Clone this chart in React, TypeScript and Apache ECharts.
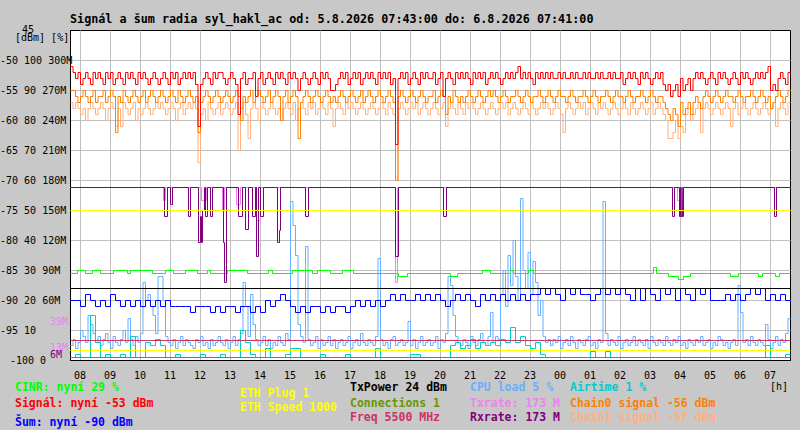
import React, { useEffect, useRef } from "react";
import * as echarts from "echarts";

// time frame: 5.8.2026 07:41 -> 6.8.2026 07:41 (UTC used for display)
const START = Date.UTC(2026, 7, 5, 7, 41);
const MINUTE = 60 * 1000;
const END = START + 1440 * MINUTE;
const FINE_STEP_MIN = 5; // sampling step of signal / chains / CPU
const COARSE_STEP_MIN = 10; // sampling step of noise / airtime

// y axis tick labels (dBm, %, rate)
const DBM_TICKS = [-100, -95, -90, -85, -80, -75, -70, -65, -60, -55, -50, -45];
const TICK_LABELS = [
  "-100 0", "-95 10", "-90 20 60M", "-85 30 90M", "-80 40 120M", "-75 50 150M",
  "-70 60 180M", "-65 70 210M", "-60 80 240M", "-55 90 270M", "-50 100 300M", "45",
];

// Signal [dBm], every 5 minutes (one row = one hour)
const SIGNAL = [
  -51, -52, -53, -52, -54, -53, -52, -53, -54, -52, -53, -52,
  -53, -54, -52, -53, -52, -54, -53, -52, -53, -54, -52, -53,
  -52, -53, -54, -52, -53, -52, -53, -54, -53, -52, -53, -54,
  -53, -52, -53, -54, -52, -53, -52, -54, -53, -52, -53, -52,
  -53, -52, -54, -61, -54, -53, -52, -53, -54, -52, -53, -52,
  -52, -53, -54, -53, -52, -53, -54, -59, -53, -52, -54, -53,
  -53, -52, -56, -53, -52, -54, -53, -52, -53, -54, -52, -53,
  -52, -53, -54, -52, -53, -52, -53, -55, -53, -52, -53, -54,
  -53, -52, -53, -54, -52, -53, -52, -53, -55, -55, -54, -53,
  -52, -53, -52, -54, -53, -52, -53, -52, -54, -53, -52, -53,
  -52, -53, -54, -52, -53, -52, -53, -52, -54, -53, -64, -53,
  -52, -53, -52, -54, -53, -52, -53, -54, -52, -53, -52, -53,
  -53, -52, -54, -53, -52, -56, -53, -52, -53, -54, -52, -53,
  -52, -53, -52, -53, -54, -52, -53, -52, -53, -52, -54, -53,
  -52, -53, -52, -53, -54, -53, -52, -53, -52, -53, -52, -51,
  -53, -52, -53, -52, -53, -54, -52, -53, -52, -53, -52, -53,
  -52, -53, -53, -52, -53, -52, -53, -53, -52, -53, -52, -53,
  -53, -52, -53, -52, -53, -53, -52, -53, -52, -53, -53, -52,
  -53, -52, -53, -53, -52, -54, -53, -52, -53, -52, -53, -54,
  -52, -53, -52, -53, -54, -53, -52, -53, -52, -54, -55, -54,
  -56, -55, -54, -56, -53, -55, -54, -53, -55, -53, -52, -53,
  -52, -53, -54, -53, -52, -53, -54, -52, -53, -52, -53, -54,
  -53, -52, -53, -54, -52, -53, -52, -53, -54, -53, -52, -53,
  -52, -53, -52, -51, -55, -54, -55, -53, -52, -53, -54, -52,
];

// Chain0 signal [dBm], every 5 minutes
const CHAIN0 = [
  -55, -55, -56, -57, -56, -55, -56, -57, -56, -55, -57, -56,
  -56, -55, -57, -56, -55, -56, -62, -56, -57, -55, -56, -57,
  -56, -55, -56, -57, -56, -55, -57, -56, -55, -56, -57, -56,
  -55, -56, -57, -56, -55, -56, -57, -55, -56, -57, -56, -55,
  -56, -57, -56, -62, -57, -56, -55, -56, -57, -56, -55, -56,
  -57, -56, -55, -56, -57, -56, -55, -56, -60, -56, -57, -56,
  -55, -57, -56, -55, -56, -57, -56, -55, -57, -56, -55, -56,
  -60, -56, -55, -57, -56, -55, -56, -63, -57, -56, -55, -56,
  -57, -56, -55, -56, -57, -56, -55, -56, -57, -56, -57, -56,
  -55, -56, -57, -56, -55, -56, -57, -56, -55, -57, -56, -55,
  -56, -57, -56, -55, -56, -57, -56, -55, -56, -57, -70, -56,
  -55, -56, -57, -56, -55, -56, -57, -56, -55, -56, -57, -56,
  -56, -55, -57, -56, -55, -56, -59, -56, -57, -55, -56, -57,
  -56, -57, -56, -55, -56, -57, -56, -55, -56, -57, -56, -55,
  -56, -55, -56, -57, -56, -55, -56, -57, -56, -56, -55, -56,
  -57, -56, -55, -56, -57, -56, -56, -55, -56, -57, -56, -55,
  -56, -57, -56, -55, -56, -56, -57, -56, -55, -56, -57, -56,
  -56, -55, -56, -57, -56, -55, -56, -57, -56, -56, -55, -56,
  -57, -56, -55, -56, -56, -57, -56, -55, -56, -57, -56, -56,
  -55, -56, -57, -56, -55, -56, -57, -56, -56, -57, -58, -59,
  -60, -58, -59, -61, -57, -59, -58, -57, -59, -57, -56, -57,
  -58, -56, -55, -56, -57, -56, -55, -56, -57, -56, -55, -56,
  -56, -57, -56, -55, -56, -57, -56, -56, -55, -56, -57, -56,
  -55, -56, -57, -56, -58, -57, -56, -55, -56, -57, -56, -55,
];

// Chain1 signal [dBm], every 5 minutes
const CHAIN1 = [
  -57, -58, -57, -58, -59, -58, -60, -58, -57, -58, -59, -58,
  -57, -58, -60, -58, -57, -58, -61, -58, -61, -57, -58, -59,
  -58, -57, -60, -58, -59, -58, -57, -58, -59, -58, -57, -58,
  -57, -58, -59, -58, -57, -58, -60, -58, -57, -59, -58, -57,
  -58, -57, -58, -67, -59, -58, -60, -57, -58, -59, -58, -57,
  -59, -58, -57, -58, -59, -58, -57, -65, -58, -57, -59, -63,
  -58, -57, -58, -60, -57, -58, -59, -58, -57, -58, -59, -58,
  -60, -58, -57, -58, -59, -57, -60, -58, -57, -58, -59, -57,
  -58, -57, -59, -58, -57, -58, -59, -57, -58, -61, -58, -57,
  -58, -59, -57, -58, -57, -58, -59, -58, -57, -58, -59, -58,
  -57, -58, -59, -58, -57, -58, -59, -57, -58, -59, -70, -58,
  -57, -58, -59, -58, -57, -58, -57, -59, -58, -57, -58, -59,
  -58, -57, -58, -59, -58, -57, -61, -58, -57, -58, -59, -57,
  -58, -59, -57, -58, -57, -58, -59, -58, -57, -58, -59, -58,
  -57, -58, -59, -58, -57, -58, -57, -59, -58, -57, -58, -59,
  -58, -57, -58, -59, -57, -58, -59, -58, -57, -58, -57, -58,
  -59, -58, -57, -58, -59, -62, -58, -57, -58, -59, -58, -57,
  -58, -57, -59, -58, -57, -58, -59, -57, -58, -57, -58, -59,
  -58, -57, -58, -59, -58, -57, -58, -59, -57, -58, -59, -58,
  -57, -58, -59, -58, -57, -59, -58, -57, -58, -59, -60, -63,
  -63, -62, -60, -63, -61, -62, -59, -58, -60, -59, -58, -57,
  -62, -58, -57, -58, -59, -58, -57, -58, -59, -58, -57, -58,
  -61, -58, -57, -59, -58, -57, -58, -59, -58, -57, -58, -59,
  -58, -57, -58, -59, -58, -57, -61, -58, -57, -58, -59, -57,
];

// CPU load [%], every 5 minutes
const CPU = [
  5, 7, 4, 6, 10, 8, 6, 15, 12, 9, 6, 8,
  5, 7, 9, 6, 4, 8, 6, 5, 7, 10, 6, 14,
  7, 5, 8, 6, 9, 26, 20, 22, 18, 15, 9, 28,
  28, 20, 8, 6, 5, 7, 4, 6, 8, 5, 7, 6,
  5, 4, 7, 6, 8, 5, 6, 4, 7, 5, 6, 8,
  6, 5, 7, 4, 6, 8, 5, 7, 9, 26, 18, 8,
  22, 12, 7, 5, 6, 8, 5, 7, 4, 6, 5, 8,
  6, 5, 9, 7, 53, 45, 35, 12, 8, 6, 38, 7,
  5, 6, 8, 4, 7, 5, 6, 8, 5, 7, 4, 6,
  7, 5, 6, 8, 4, 6, 7, 5, 9, 6, 5, 7,
  6, 5, 8, 34, 7, 5, 6, 4, 7, 8, 5, 6,
  7, 5, 6, 13, 5, 7, 4, 6, 8, 5, 6, 7,
  5, 6, 8, 4, 7, 6, 9, 28, 25, 15, 8, 6,
  5, 7, 6, 4, 8, 6, 5, 7, 9, 6, 5, 8,
  16, 6, 8, 7, 22, 30, 18, 35, 25, 40, 28, 20,
  54, 30, 24, 36, 22, 33, 26, 15, 20, 8, 6, 7,
  5, 7, 6, 8, 4, 6, 7, 5, 8, 6, 4, 7,
  6, 5, 7, 8, 5, 6, 4, 7, 6, 53, 9, 5,
  7, 6, 5, 8, 4, 6, 7, 5, 6, 8, 5, 7,
  6, 5, 7, 4, 8, 6, 5, 7, 6, 5, 8, 6,
  5, 7, 6, 8, 5, 6, 4, 7, 6, 5, 7, 6,
  8, 5, 6, 7, 4, 6, 5, 8, 7, 5, 6, 4,
  6, 7, 5, 25, 16, 6, 7, 5, 8, 6, 5, 7,
  6, 5, 12, 7, 4, 6, 8, 5, 7, 6, 9, 14,
];

// Noise [dBm], every 10 minutes
const NOISE = [
  -90, -90, -91, -89, -90, -91, -90, -91, -89, -90, -91, -90,
  -91, -90, -91, -90, -91, -90, -91, -90, -91, -91, -91, -91,
  -92, -91, -91, -91, -92, -91, -92, -91, -91, -92, -91, -91,
  -92, -91, -92, -90, -91, -90, -89, -90, -91, -92, -91, -92,
  -91, -91, -92, -91, -92, -91, -91, -92, -91, -90, -91, -90,
  -91, -90, -91, -90, -89, -90, -89, -90, -90, -89, -90, -89,
  -90, -89, -90, -91, -90, -89, -90, -89, -90, -91, -89, -90,
  -89, -90, -89, -90, -89, -90, -89, -90, -89, -89, -88, -89,
  -88, -89, -90, -88, -89, -88, -89, -89, -90, -89, -88, -89,
  -88, -89, -88, -89, -90, -88, -90, -88, -89, -90, -88, -89,
  -88, -90, -88, -89, -90, -88, -89, -88, -90, -90, -90, -89,
  -90, -89, -90, -89, -88, -89, -88, -90, -89, -90, -89, -90,
];

// Airtime [%], every 10 minutes
const AIRTIME = [
  1, 2, 1, 1, 15, 6, 1, 2, 1, 1, 2, 1,
  8, 1, 1, 6, 5, 7, 5, 1, 1, 2, 1, 1,
  1, 1, 2, 1, 1, 1, 2, 1, 1, 1, 10, 6,
  2, 1, 1, 4, 1, 1, 1, 2, 4, 4, 1, 1,
  1, 1, 2, 1, 1, 1, 1, 2, 1, 1, 1, 1,
  1, 4, 1, 1, 1, 1, 1, 1, 2, 2, 1, 1,
  1, 1, 1, 1, 5, 6, 4, 5, 7, 4, 6, 5,
  6, 5, 7, 6, 11, 6, 8, 5, 4, 6, 2, 1,
  1, 1, 1, 1, 1, 1, 1, 1, 3, 1, 1, 3,
  1, 1, 1, 1, 1, 1, 1, 1, 1, 1, 1, 1,
  1, 1, 1, 1, 1, 1, 1, 1, 1, 1, 1, 1,
  1, 1, 1, 1, 1, 1, 1, 5, 1, 1, 1, 2,
];

// CINR [%] changes: [minute from start, value]
const CINR_EVENTS = [
  [0, 29], [14, 30], [30, 29], [44, 30], [60, 29], [86, 30], [114, 29], [120, 30],
  [164, 29], [190, 30], [206, 29], [230, 30], [254, 29], [274, 30], [280, 29],
  [314, 30], [354, 29], [396, 30], [404, 29], [444, 30], [484, 29], [494, 30],
  [520, 29], [544, 30], [566, 29], [656, 28], [674, 29], [760, 28], [774, 29],
  [824, 30], [840, 29], [880, 30], [886, 29], [916, 30], [926, 29], [1166, 31],
  [1172, 29], [1196, 28], [1216, 27], [1226, 28], [1240, 29], [1320, 28],
  [1336, 29], [1376, 28], [1384, 29], [1410, 28], [1418, 29], [1440, 29],
];

// Rxrate [M] changes
const RX_EVENTS = [
  [0, 173], [188, 144], [194, 173], [200, 156], [204, 173], [236, 144], [240, 173],
  [256, 118], [260, 144], [262, 118], [264, 150], [268, 173], [270, 144], [274, 173],
  [280, 144], [284, 173], [306, 118], [308, 78], [312, 173], [336, 144], [344, 173],
  [350, 131], [356, 173], [364, 144], [370, 173], [372, 104], [376, 173], [380, 144],
  [386, 173], [414, 118], [418, 130], [420, 173], [470, 144], [476, 173], [650, 104],
  [656, 173], [746, 144], [752, 173], [1204, 144], [1208, 173], [1218, 144],
  [1220, 173], [1221, 144], [1223, 173], [1224, 144], [1226, 173], [1408, 144],
  [1412, 173], [1440, 173],
];

// Txrate [M] changes
const TX_EVENTS = [
  [0, 173], [186, 160], [190, 173], [262, 160], [272, 173], [304, 150], [308, 173],
  [332, 156], [340, 173], [372, 140], [380, 173], [650, 78], [654, 173],
  [1214, 160], [1218, 173], [1440, 173],
];

// constant levels
const TXPOWER_PCT = 24;
const CONNECTIONS_PCT = 1;
const FREQ_LINE_M = 20;
const ETH_PLUG_LINE_M = 10;
const ETH_SPEED_LINE_M = 150;

// rate marks on the left axis
const RATE_MARKS = [39, 13, 6];
const RATE_MARK_COLORS = ["#ee82ee", "#ee82ee", "#800080"];

// current values for the legend
const NOW_CINR = 29;
const NOW_SIGNAL = -53;
const NOW_NOISE = -90;
const NOW_TXPOWER = 24;
const NOW_CONNECTIONS = 1;
const NOW_FREQ = 5500;
const NOW_CPU = 5;
const NOW_TXRATE = 173;
const NOW_RXRATE = 173;
const NOW_AIRTIME = 1;
const NOW_CHAIN0 = -56;
const NOW_CHAIN1 = -57;
const NOW_ETH_PLUG = 1;
const NOW_ETH_SPEED = 1000;

const FONT = '"DejaVu Sans Mono", "Liberation Mono", monospace';

const C = {
  signal: "#ff0000",
  chain0: "#ff8000",
  chain1: "#ffb080",
  noise: "#0000ff",
  cinr: "#00ff00",
  txpower: "#000000",
  conn: "#669900",
  freq: "#cc3366",
  cpu: "#66b0ff",
  air: "#00cccc",
  tx: "#ee82ee",
  rx: "#800080",
  eth: "#ffff00",
};

export default function App() {
  const ref = useRef<HTMLDivElement>(null);

  useEffect(() => {
    document.body.style.margin = "0";
    const chart = echarts.init(ref.current!, null, { renderer: "svg" });
    const ts = (m: number) => START + m * MINUTE;
    const reg = (arr: number[], step: number) => {
      const d = arr.map((v, i) => [ts(i * step), v]);
      d.push([END, arr[arr.length - 1]]);
      return d;
    };
    const ev = (arr: number[][]) => arr.map(([m, v]) => [ts(m), v]);
    const flat = (v: number) => [[START, v], [END, v]];
    const line = (name: string, data: any[], color: string, yAxisIndex: number) => ({
      type: "line",
      name,
      data,
      yAxisIndex,
      step: "end",
      showSymbol: false,
      symbol: "none",
      silent: true,
      animation: false,
      lineStyle: { color, width: 1 },
      itemStyle: { color },
      emphasis: { disabled: true },
    });

    const pad = (n: number) => (n < 10 ? "0" + n : "" + n);

    chart.setOption({
      animation: false,
      useUTC: true,
      backgroundColor: "#c8c8c8",
      title: {
        text: "Signál a šum radia syl_hakl_ac od: 5.8.2026 07:43:00 do: 6.8.2026 07:41:00",
        left: 70,
        top: 12,
        padding: 0,
        textStyle: { fontFamily: FONT, fontSize: 11.75, fontWeight: "bold", color: "#000", lineHeight: 14 },
      },
      grid: {
        left: 70.5,
        top: 30.5,
        width: 720,
        height: 330,
        show: true,
        backgroundColor: "#ffffff",
        borderColor: "#000",
        borderWidth: 1,
        containLabel: false,
        outerBoundsMode: "none",
      },
      xAxis: {
        type: "time",
        min: START,
        max: END,
        minInterval: 60 * MINUTE,
        maxInterval: 60 * MINUTE,
        axisLine: { show: true, lineStyle: { color: "#000", width: 1 } },
        axisTick: { show: false },
        splitLine: { show: true, showMinLine: false, showMaxLine: false, lineStyle: { color: "#c0c0c0", width: 1 } },
        axisLabel: {
          show: true,
          showMinLabel: false,
          showMaxLabel: false,
          hideOverlap: false,
          margin: 10,
          color: "#000",
          fontFamily: FONT,
          fontSize: 10,
          formatter: (v: number) => pad(new Date(v).getUTCHours()),
        },
      },
      yAxis: [
        {
          type: "value",
          min: -100,
          max: -45,
          interval: 5,
          axisLine: { show: true, lineStyle: { color: "#000", width: 1 } },
          axisTick: { show: false },
          splitLine: { show: true, showMinLine: false, showMaxLine: false, lineStyle: { color: "#c0c0c0", width: 1 } },
          axisLabel: {
            align: "left",
            margin: 70.5,
            color: "#000",
            fontFamily: FONT,
            fontSize: 10,
            formatter: (v: number) => {
              const idx = DBM_TICKS.indexOf(Math.round(v));
              const s = idx >= 0 ? TICK_LABELS[idx] : "";
              if (idx === 0) return "{p|" + s + "}";
              if (idx === DBM_TICKS.length - 1) return "{q|" + s + "}";
              return "{n|" + s + "}";
            },
            rich: {
              n: { fontFamily: FONT, fontSize: 10, color: "#000" },
              p: { fontFamily: FONT, fontSize: 10, color: "#000", padding: [0, 0, 0, 10] },
              q: { fontFamily: FONT, fontSize: 10, color: "#000", padding: [0, 0, 2, 22] },
            },
          },
        },
        { type: "value", min: 0, max: 110, show: false, splitLine: { show: false } },
        { type: "value", min: 0, max: 330, show: false, splitLine: { show: false } },
      ],
      series: [
        line("Chain1", reg(CHAIN1, FINE_STEP_MIN), C.chain1, 0),
        line("Chain0", reg(CHAIN0, FINE_STEP_MIN), C.chain0, 0),
        line("Signal", reg(SIGNAL, FINE_STEP_MIN), C.signal, 0),
        line("CPU", reg(CPU, FINE_STEP_MIN), C.cpu, 1),
        line("Airtime", reg(AIRTIME, COARSE_STEP_MIN), C.air, 1),
        line("Noise", reg(NOISE, COARSE_STEP_MIN), C.noise, 0),
        line("CINR", ev(CINR_EVENTS), C.cinr, 1),
        line("Txrate", ev(TX_EVENTS), C.tx, 2),
        line("Rxrate", ev(RX_EVENTS), C.rx, 2),
        line("ETH Speed", flat(ETH_SPEED_LINE_M), C.eth, 2),
        line("ETH Plug", flat(ETH_PLUG_LINE_M), C.eth, 2),
        line("Freq", flat(FREQ_LINE_M), C.freq, 2),
        line("Connections", flat(CONNECTIONS_PCT), C.conn, 1),
        line("TxPower", flat(TXPOWER_PCT), C.txpower, 1),
      ],
    });

    const txt = (text: string, x: number, y: number, fill: string, bold = true, size = 11.5) => ({
      type: "text",
      x,
      y,
      silent: true,
      style: {
        text,
        fill,
        fontFamily: FONT,
        fontSize: size,
        fontWeight: bold ? "bold" : "normal",
        align: "left",
        verticalAlign: "middle",
      },
    });

    const marks = RATE_MARKS.map((m, i) => {
      const y = chart.convertToPixel({ yAxisIndex: 2 }, m) as number;
      return txt(m + "M", 50, y, RATE_MARK_COLORS[i], false, 10);
    });

    chart.setOption({
      graphic: [
        txt("[dBm] [%]", 15, 37, "#000", false, 10),
        txt("[h]", 770, 386.5, "#000", false, 10),
        ...marks,
        txt(`CINR: nyní ${NOW_CINR} %`, 15, 386.5, C.cinr),
        txt(`Signál: nyní ${NOW_SIGNAL} dBm`, 15, 402.5, C.signal),
        txt(`Šum: nyní ${NOW_NOISE} dBm`, 15, 421.5, C.noise),
        txt(`ETH Plug ${NOW_ETH_PLUG}`, 240, 392.5, C.eth),
        txt(`ETH Speed ${NOW_ETH_SPEED}`, 240, 407, C.eth),
        txt(`TxPower ${NOW_TXPOWER} dBm`, 350, 386.5, C.txpower),
        txt(`Connections ${NOW_CONNECTIONS}`, 350, 402.5, C.conn),
        txt(`Freq ${NOW_FREQ} MHz`, 350, 416.5, C.freq),
        txt(`CPU load ${NOW_CPU} %`, 470, 386.5, C.cpu),
        txt(`Txrate: ${NOW_TXRATE} M`, 470, 402.5, C.tx),
        txt(`Rxrate: ${NOW_RXRATE} M`, 470, 416.5, C.rx),
        txt(`Airtime ${NOW_AIRTIME} %`, 570, 386.5, C.air),
        txt(`Chain0 signal ${NOW_CHAIN0} dBm`, 570, 402.5, C.chain0),
        txt(`Chain1 signal ${NOW_CHAIN1} dBm`, 570, 416.5, C.chain1),
      ],
    });

    return () => chart.dispose();
  }, []);

  return <div ref={ref} style={{ position: "fixed", left: 0, top: 0, width: 800, height: 430 }} />;
}
